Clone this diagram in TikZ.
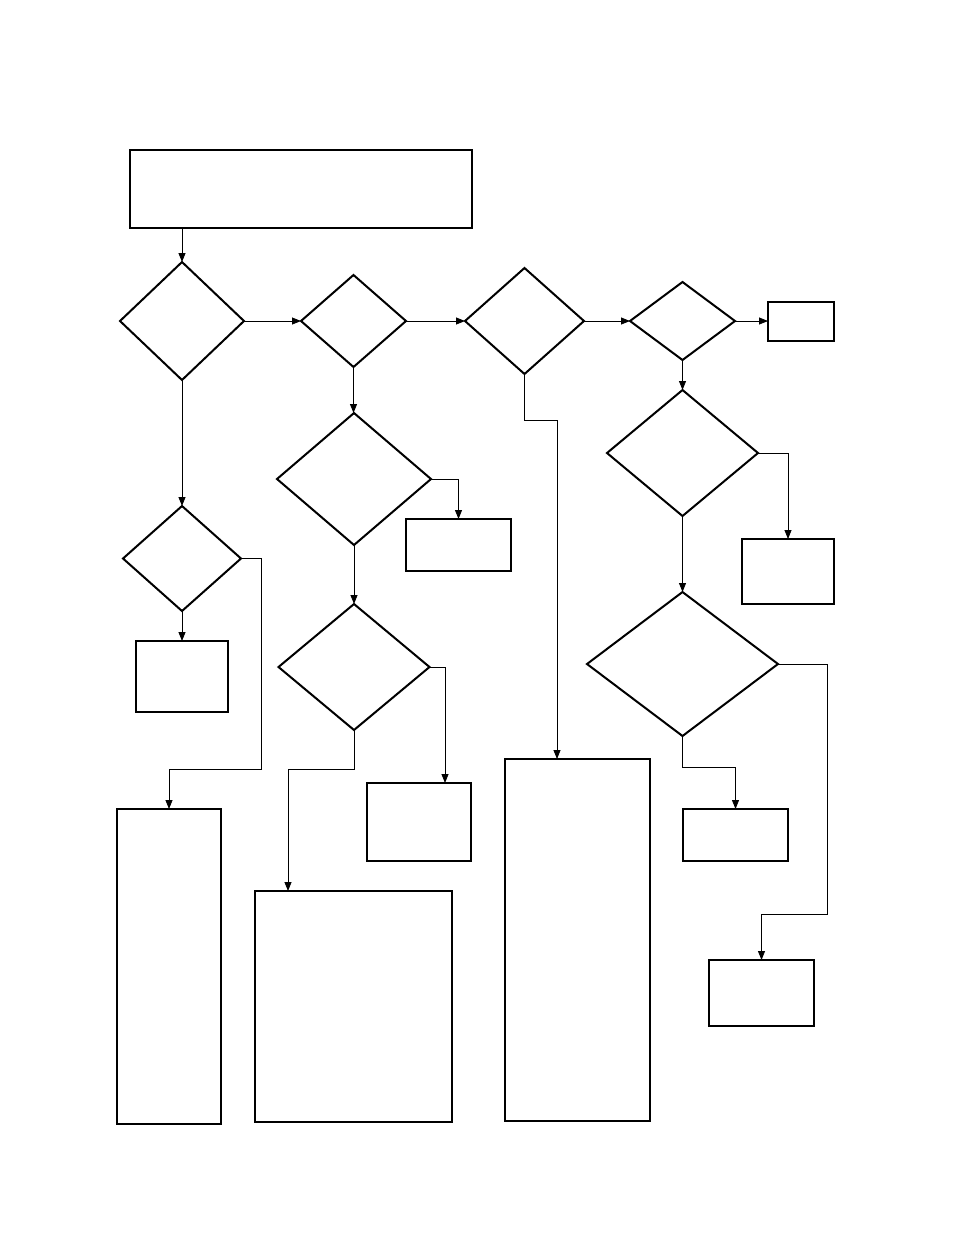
\documentclass[tikz,border=0pt]{standalone}
\usepackage{tikz}
\usetikzlibrary{shapes.geometric, arrows.meta, positioning, calc}

\begin{document}
\begin{tikzpicture}[
  x=1pt, y=-1pt,
  blk/.style={rectangle, draw=black, line width=2pt, inner sep=0pt, outer sep=0pt},
  dec/.style={diamond, draw=black, line width=2pt, inner sep=0pt, outer sep=0pt},
  arrow/.style={-{Triangle[length=9pt, width=7pt]}, line width=0.8pt},
]
  \useasboundingbox (0,0) rectangle (954,1235);

  % top box and main row of decisions
  \node[blk, minimum width=342, minimum height=78] (start) at (301,189) {};
  \node[dec, minimum width=124, minimum height=118] (d1) at (182,321) {};
  \node[dec, minimum width=105, minimum height=92] (d2) at (353.5,321) {};
  \node[dec, minimum width=119, minimum height=106] (d3) at (524.5,321) {};
  \node[dec, minimum width=105, minimum height=78] (d4) at (682.5,321) {};
  \node[blk, minimum width=66, minimum height=39] (stop) at (801,321) {};

  % left column
  \node[dec, minimum width=118, minimum height=105] (d9) at (182,558.5) {};
  \node[blk, minimum width=92, minimum height=71] (b9) at (182,676.5) {};
  \node[blk, minimum width=104, minimum height=315] (big1) at (169,966.5) {};

  % second column
  \node[dec, minimum width=154, minimum height=132] (d7) at (354,479) {};
  \node[blk, minimum width=105, minimum height=52] (b7) at (458.5,545) {};
  \node[dec, minimum width=151, minimum height=126] (d8) at (354,667) {};
  \node[blk, minimum width=104, minimum height=78] (b8) at (419,822) {};
  \node[blk, minimum width=197, minimum height=231] (big2) at (353.5,1006.5) {};

  % third column
  \node[blk, minimum width=145, minimum height=362] (big3) at (577.5,940) {};

  % right column
  \node[dec, minimum width=151, minimum height=126] (d5) at (682.5,453) {};
  \node[blk, minimum width=92, minimum height=65] (r1) at (788,571.5) {};
  \node[dec, minimum width=191, minimum height=144] (d6) at (682.5,664) {};
  \node[blk, minimum width=105, minimum height=52] (b6a) at (735.5,835) {};
  \node[blk, minimum width=105, minimum height=66] (b6b) at (761.5,993) {};

  \coordinate (j9) at (261,769);
  \coordinate (j6) at (827,914);

  \draw[arrow] (start.south -| d1.north) -- (d1.north);
  \draw[arrow] (d1.east) -- (d2.west);
  \draw[arrow] (d2.east) -- (d3.west);
  \draw[arrow] (d3.east) -- (d4.west);
  \draw[arrow] (d4.east) -- (stop.west);

  \draw[arrow] (d1.south) -- (d9.north);
  \draw[arrow] (d9.south) -- (b9.north);
  \draw[arrow] (d9.east) -| (j9) -| (big1.north);

  \draw[arrow] (d2.south) -- (d7.north -| d2.south);
  \draw[arrow] (d7.east) -| (b7.north);
  \draw[arrow] (d7.south) -- (d8.north);
  \draw[arrow] (d8.east) -| ([xshift=26pt]b8.north);
  \draw[arrow] (d8.south) -- ++(0,39) -| ([xshift=-65.5pt]big2.north);

  \draw[arrow] (d3.south) -- ++(0,46) -| ([xshift=-20.5pt]big3.north);

  \draw[arrow] (d4.south) -- (d5.north);
  \draw[arrow] (d5.east) -| (r1.north);
  \draw[arrow] (d5.south) -- (d6.north);
  \draw[arrow] (d6.south) -- ++(0,31) -| (b6a.north);
  \draw[arrow] (d6.east) -| (j6) -| (b6b.north);
\end{tikzpicture}
\end{document}
